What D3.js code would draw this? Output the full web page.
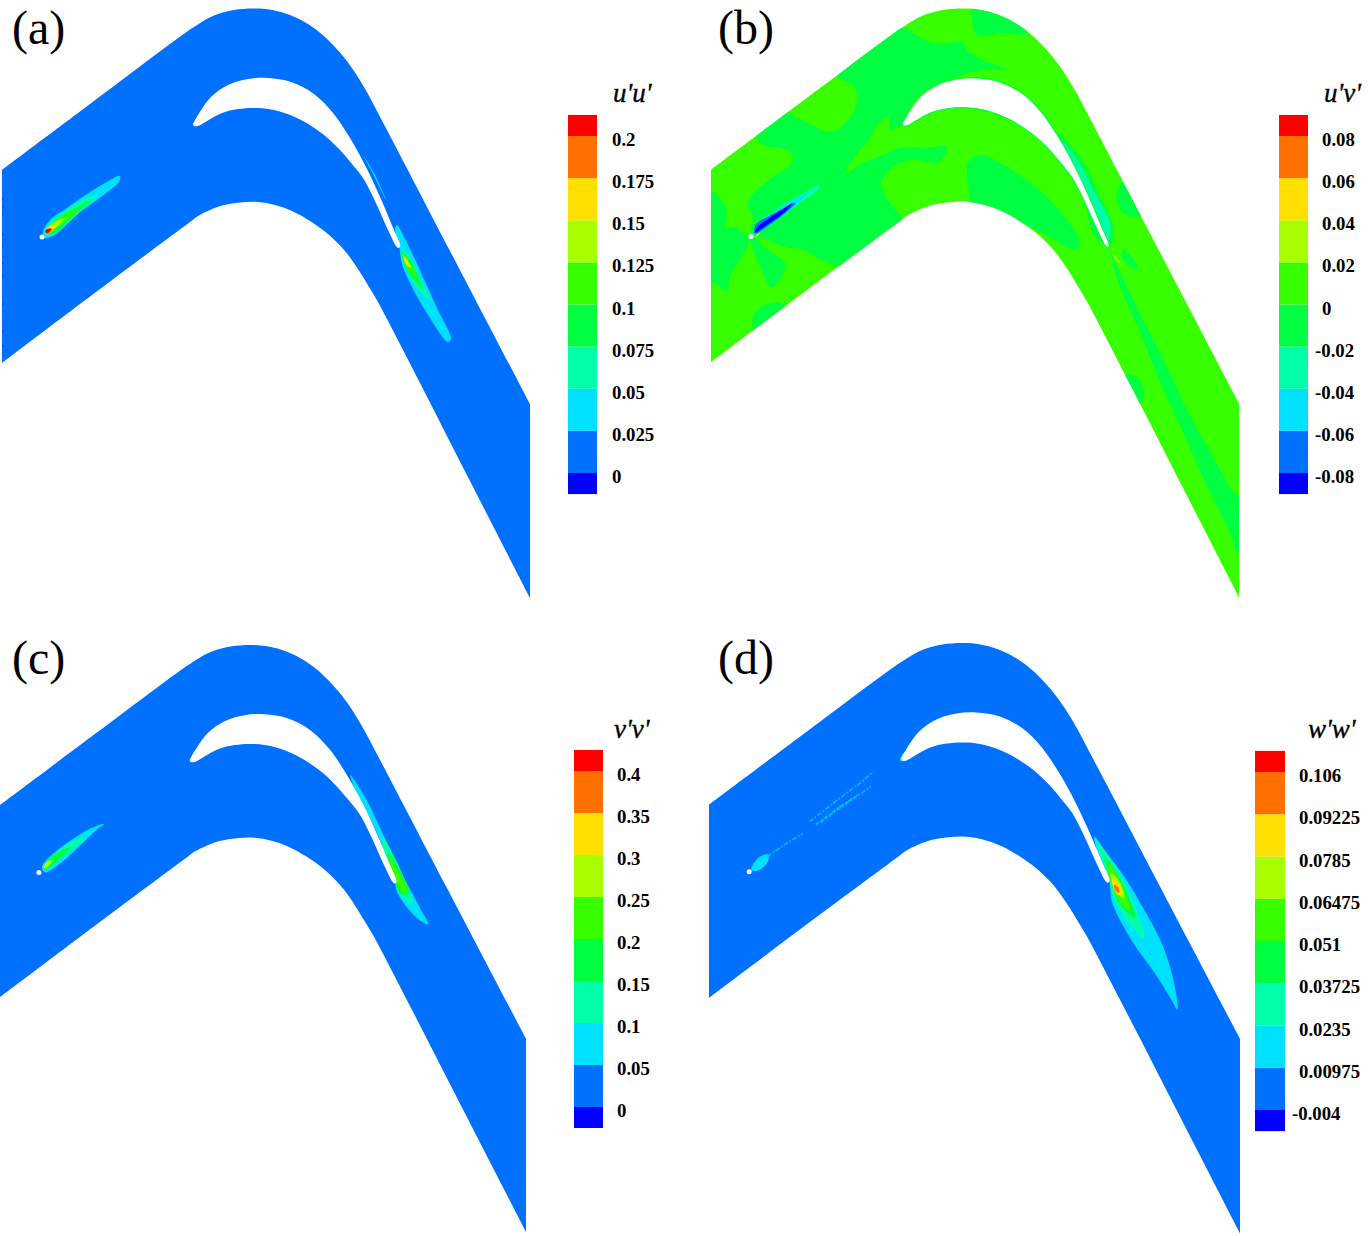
<!DOCTYPE html>
<html><head><meta charset="utf-8">
<script src="https://cdn.jsdelivr.net/npm/d3@7"></script>
<style>html,body{margin:0;background:#fff}svg{display:block}</style>
</head><body><svg id="c" width="1368" height="1236"></svg>
<script>
// contour colour bands, low to high
const bandColors=["#0000ff","#0070ff","#00e0ff","#00ffa8","#00ff40","#38ff00","#a8ff00","#ffe000","#ff7000","#ff0000"];
// legend levels and labels
const levelsA=[0,0.025,0.05,0.075,0.1,0.125,0.15,0.175,0.2];
const labelsA=["0","0.025","0.05","0.075","0.1","0.125","0.15","0.175","0.2"];
const levelsB=[-0.08,-0.06,-0.04,-0.02,0,0.02,0.04,0.06,0.08];
const labelsB=["-0.08","-0.06","-0.04","-0.02","0","0.02","0.04","0.06","0.08"];
const levelsC=[0,0.05,0.1,0.15,0.2,0.25,0.3,0.35,0.4];
const labelsC=["0","0.05","0.1","0.15","0.2","0.25","0.3","0.35","0.4"];
const levelsD=[-0.004,0.00975,0.0235,0.03725,0.051,0.06475,0.0785,0.09225,0.106];
const labelsD=["-0.004","0.00975","0.0235","0.03725","0.051","0.06475","0.0785","0.09225","0.106"];
// geometry, in flow-domain coordinates
const upperWall=[[2,170],[94,101],[185,33],[194,27],[205,20],[218,14],[234,10],[254,8.5],[272,10],[290,15],[308,24],[325,37],[342,55],[356,74],[368,94],[378,113],[388,132],[400,155],[450,251],[530,404]];
const lowerWall=[[2,363],[96,292],[190,222],[198,216],[210,210],[224,205],[240,202.5],[258,202],[275,205],[292,211],[310,221],[328,234],[345,251],[358,269],[369,287],[378,302],[387,319],[420,383],[470,481],[530,598]];
const bladeUpper=[[193,124],[198,115],[211,97],[228,85],[248,79],[268,78],[291,82],[314,94],[333,113],[350,138],[366,167],[381,199],[394,230],[400,244],[400,247],[398,248]];
const bladeLower=[[398,248],[396,246],[388,230],[374,199],[363,178],[352,164],[340,150],[324,135],[301,120],[278,111],[258,108],[238,109],[222,113],[207,121],[198,126],[194,126],[193,124]];
const holeCenter=[42,237];
const edgeSpecks=[198,205,213,233,245,262,275,303,330,345];
// panel a
const wakeA=[[2,[[120,176],[105,183],[87,194],[67,208],[50,220],[43,232],[45,238],[50,237],[60,231],[75,216],[97,200],[110,190],[119,182]]],
[3,[[97,195],[80,212],[62,228],[50,236],[44,233],[50,223],[67,210],[80,201]]],
[4,[[90,201],[70,219],[55,233],[45,233],[51,224],[67,212]]],
[5,[[79,209],[63,223],[53,231],[45,233],[52,225],[63,216]]],
[6,[[64,218],[53,230],[46,232],[50,225]]],
[7,[[56,226],[50,232],[45,233],[47,228]]],
[9,[[52,229],[48,233],[45,232],[47,229]]],
[2,[[397,225],[402,233],[412,253],[423,277],[437,308],[451,339],[448,342],[428,315],[412,287],[402,264],[399,245],[395,228]]],
[3,[[402,250],[412,261],[422,282],[430,300],[419,290],[408,273]]],
[4,[[402,252],[410,260],[419,278],[422,288],[412,278],[405,266]]],
[5,[[402,253],[409,261],[416,276],[407,268]]],
[6,[[403,255],[408,261],[411,268],[405,263]]],
[7,[[403,256],[407,260],[408,265]]],
[2,[[363,155],[375,175],[387,202],[374,176]]]];
// panel b
const patchesB=[
[4,[[81,113],[101,124],[121,132],[138,122],[148,100],[144,85],[129,77],[194,28],[204,33],[221,42],[238,43],[254,43],[258,50],[274,60],[298,70],[274,70],[244,78],[221,88],[204,103],[193,125],[181,130],[180,117],[176,118],[164,132],[158,143],[151,150],[137,173],[154,163],[174,155],[191,148],[218,148],[238,147],[234,158],[228,163],[218,162],[204,160],[188,165],[176,175],[172,185],[181,203],[196,222],[196,228],[125,275],[129,268],[111,260],[94,250],[78,248],[51,238],[42,237],[44,220],[39,203],[43,195],[64,177],[83,163],[81,152],[54,145],[48,139],[48,130],[81,105]]],
[4,[[-3,192],[3,192],[11,198],[18,213],[16,227],[26,228],[34,233],[42,237],[31,260],[21,277],[18,292],[8,285],[2,283],[-3,283]]],
[4,[[42,238],[51,267],[63,288],[76,270],[76,263],[58,250],[46,238]]],
[4,[[44,332],[44,317],[53,307],[68,303],[76,307],[60,325],[44,345]]],
[4,[[263,9],[266,33],[274,36],[291,33],[318,33],[310,10],[263,0]]],
[4,[[261,202],[258,173],[259,163],[271,155],[291,163],[338,197],[371,243],[366,250],[331,232],[308,222],[290,215],[261,210]]],
[4,[[414,182],[408,193],[411,210],[423,217],[433,215],[440,205],[425,180]]],
[4,[[416,375],[428,378],[435,392],[431,405],[415,400],[405,380]]],
[4,[[399,248],[411,273],[434,320],[458,367],[478,410],[498,447],[529,497],[535,497],[535,555],[529,553],[518,527],[498,487],[474,433],[451,383],[431,333],[411,287],[403,260]]],
[4,[[348,133],[371,157],[394,203],[404,227],[401,247],[386,237],[375,200]]],
[3,[[353,142],[368,160],[384,190],[401,223],[399,240],[390,232],[378,200],[364,172]]],
[4,[[415,250],[429,268],[426,270],[413,257]]],
[6,[[404,255],[414,267],[412,265],[406,260]]],
[3,[[111,185],[94,194],[68,209],[48,225],[46,233],[68,220],[91,203],[109,190]]],
[2,[[99,193],[84,201],[68,211],[47,226],[46,233],[68,219],[88,204]]],
[1,[[87,203],[68,212],[46,226],[46,234],[58,227],[79,211]]],
[0,[[84,203],[73,210],[48,228],[46,233],[58,225],[76,212]]],
[7,[[46,237],[51,233],[48,237]]]];
// panel c
const wakeC=[[2,[[108,188],[100,194],[82,211],[62,229],[48,237],[45,232],[54,220],[75,204],[95,192]]],
[3,[[88,202],[65,223],[50,234],[47,232],[56,220],[75,206]]],
[4,[[73,212],[55,230],[47,234],[47,232],[57,219]]],
[6,[[56,225],[48,233],[47,231],[52,225]]],
[7,[[50,229],[47,233],[47,231]]],
[2,[[354,139],[368,160],[388,201],[407,241],[423,271],[432,289],[425,286],[410,271],[400,254],[399,244],[391,224],[378,191],[362,161]]],
[3,[[386,201],[401,227],[415,261],[418,267],[408,264],[400,252],[399,242],[389,221]]],
[4,[[391,216],[403,234],[413,257],[406,259],[400,251],[396,237]]],
[5,[[393,219],[401,234],[411,256],[405,255],[400,247],[396,236]]]];
// panel d
const wakeD=[[2,[[385,202],[398,219],[415,242],[433,272],[452,308],[463,342],[468,375],[460,362],[445,338],[423,307],[403,268],[400,247],[391,225]]],
[3,[[386,205],[400,222],[413,244],[427,275],[435,304],[421,290],[405,265],[401,248],[393,225]]],
[4,[[395,222],[405,234],[417,257],[426,283],[414,274],[404,256],[400,238]]],
[5,[[398,228],[408,241],[417,262],[421,276],[411,268],[403,252]]],
[6,[[401,238],[410,247],[415,263],[408,259],[403,248]]],
[7,[[403,245],[410,250],[412,260],[406,257]]],
[8,[[405,250],[409,253],[410,258],[406,256]]],
[2,[[44,235],[51,223],[61,220],[60,228],[50,236]]],
[2,[[192,126],[195,119],[198,117],[196,122],[199,126]]]];
// faint, broken streaks in panel d
const streaksD=[[[60,222],[77,210],[85,205],[95,199]],[[102,187],[125,169],[138,159],[153,148],[165,137]],[[113,188],[130,175],[147,163],[163,152]],[[108,190],[128,175],[150,160]]];
// panel layout values
const panels=[
 {tag:"(a)",tagX:12,tagY:44,xr:[2,530],yr:[8.5,598],base:1,layers:wakeA,levels:levelsA,labels:labelsA,title:"u'u'",titleX:613,titleY:102,barX:568,barW:29,y0:473,y1:136,labX:612},
 {tag:"(b)",tagX:718,tagY:44,xr:[711,1239],yr:[8.5,597],base:5,layers:patchesB,levels:levelsB,labels:labelsB,title:"u'v'",titleX:1324,titleY:102,barX:1279,barW:29,y0:473,y1:136,labX:1322,rim:4},
 {tag:"(c)",tagX:12,tagY:674,xr:[-1,526],yr:[645,1232],base:1,layers:wakeC,levels:levelsC,labels:labelsC,title:"v'v'",titleX:614,titleY:738,barX:574,barW:29,y0:1107,y1:771,labX:617},
 {tag:"(d)",tagX:718,tagY:674,xr:[709,1240],yr:[643,1233],base:1,layers:wakeD,levels:levelsD,labels:labelsD,title:"w'w'",titleX:1308,titleY:738,barX:1255,barW:30,y0:1110,y1:772,labX:1299,streaks:streaksD}
];
const svg=d3.select("#c");
const serif="'Liberation Serif','Times New Roman',serif";
const curve=d3.curveCatmullRom.alpha(0.5), closed=d3.curveCatmullRomClosed.alpha(0.5);
panels.forEach((p,pi)=>{
  const x=d3.scaleLinear([2,530],p.xr), y=d3.scaleLinear([8.5,598],p.yr);
  const open=d3.line().x(d=>x(d[0])).y(d=>y(d[1])).curve(curve);
  const blob=d3.line().x(d=>x(d[0])).y(d=>y(d[1])).curve(closed);
  const domain=open(upperWall)+"L"+open(lowerWall.slice().reverse()).slice(1)+"Z";
  const blade=open(bladeUpper)+"L"+open(bladeLower).slice(1)+"Z";
  const g=svg.append("g");
  svg.append("clipPath").attr("id","clip"+pi).append("path").attr("d",domain);
  g.append("path").attr("d",domain).attr("fill",bandColors[p.base]);
  const inner=g.append("g").attr("clip-path",`url(#clip${pi})`);
  inner.selectAll("path.contour").data(p.layers).join("path").attr("class","contour")
    .attr("d",d=>blob(d[1])).attr("fill",d=>bandColors[d[0]]);
  if(p.streaks) inner.selectAll("path.streak").data(p.streaks).join("path").attr("class","streak")
    .attr("d",d=>open(d)).attr("fill","none").attr("stroke",bandColors[2]).attr("stroke-opacity",.6)
    .attr("stroke-width",1.8).attr("stroke-dasharray","5 1.5 2 1.5");
  if(pi===0) inner.selectAll("line.speck").data(edgeSpecks).join("line").attr("class","speck")
    .attr("x1",x(3)).attr("x2",x(3)).attr("y1",d=>y(d)).attr("y2",d=>y(d+2.5)).attr("stroke","#0040d0").attr("stroke-width",1);
  g.append("path").attr("d",blade).attr("fill","#fff")
    .attr("stroke",p.rim!==undefined?bandColors[p.rim]:"none").attr("stroke-width",p.rim!==undefined?1.2:0);
  g.append("circle").attr("cx",x(holeCenter[0])).attr("cy",y(holeCenter[1])).attr("r",2.5).attr("fill","#fff");
  // legend
  const step=p.levels[1]-p.levels[0];
  const v=d3.scaleLinear([p.levels[0],p.levels[p.levels.length-1]],[p.y0,p.y1]);
  const edges=[p.levels[0]-step/2,...p.levels,p.levels[p.levels.length-1]+step/2];
  const leg=svg.append("g");
  leg.selectAll("rect").data(d3.pairs(edges)).join("rect")
    .attr("x",p.barX).attr("width",p.barW)
    .attr("y",d=>v(d[1])).attr("height",d=>v(d[0])-v(d[1]))
    .attr("fill",(d,i)=>bandColors[i]);
  const axis=d3.axisRight(v).tickValues(p.levels).tickSize(0).tickPadding(0).tickFormat((d,i)=>p.labels[i]);
  const ax=svg.append("g").attr("transform",`translate(${p.labX},3.5)`).call(axis);
  ax.select(".domain").remove();
  ax.selectAll("text").attr("font-family",serif).attr("font-weight","bold").attr("font-size",18.8).attr("fill","#000")
    .attr("x",(d,i)=>p.labels[i].startsWith("-")?-7:0);
  svg.append("text").attr("x",p.titleX).attr("y",p.titleY).text(p.title)
    .attr("font-family",serif).attr("font-style","italic").attr("font-size",27).attr("fill","#000")
    .attr("stroke","#000").attr("stroke-width",.35);
  svg.append("text").attr("x",p.tagX).attr("y",p.tagY).text(p.tag)
    .attr("font-family",serif).attr("font-size",48).attr("fill","#000");
});
</script></body></html>
